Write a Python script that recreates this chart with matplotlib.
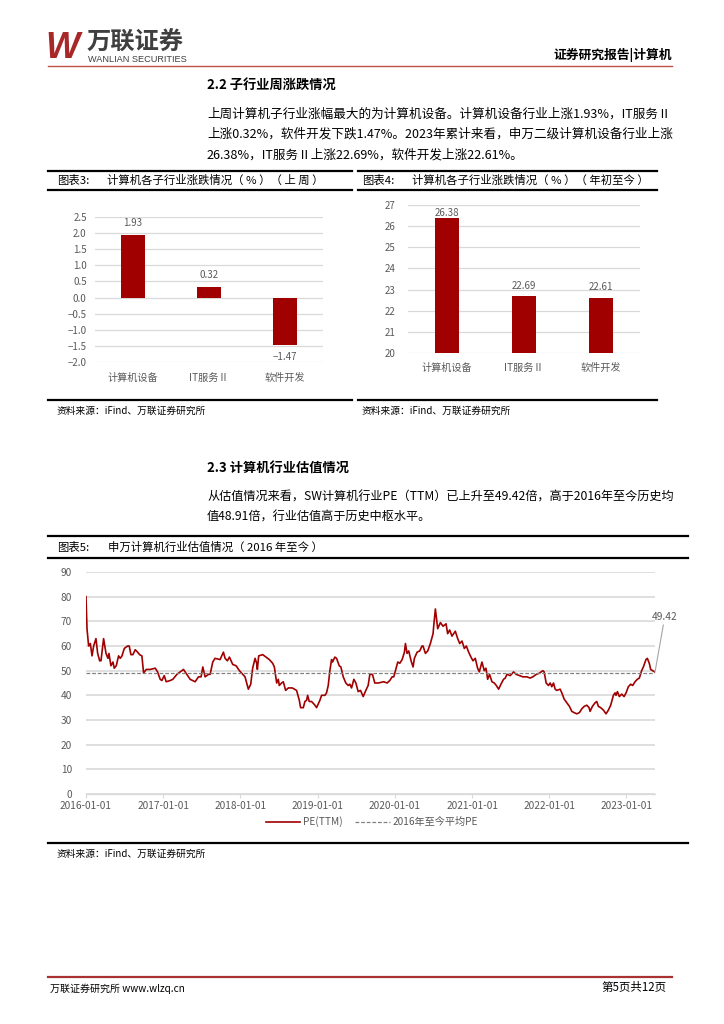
import matplotlib
matplotlib.use('Agg')
import matplotlib.pyplot as plt
import matplotlib.dates as mdates
from matplotlib.lines import Line2D
from matplotlib.ticker import FuncFormatter, MultipleLocator
import numpy as np
import pandas as pd

plt.rcParams['font.family'] = ['Noto Sans CJK SC', 'DejaVu Sans']

# ---------------- data ----------------
cats = ['计算机设备', 'IT服务Ⅱ', '软件开发']
week_chg = [1.93, 0.32, -1.47]
ytd_chg = [26.38, 22.69, 22.61]

# PE(TTM) of SW computer index, time in years since 2016-01-01
pe_t = [0.000, 0.013, 0.034, 0.056, 0.078, 0.099, 0.129, 0.151, 0.177, 0.194,
        0.228, 0.259, 0.284, 0.297, 0.323, 0.349, 0.366, 0.392, 0.422, 0.444,
        0.466, 0.496, 0.539, 0.560, 0.582, 0.608, 0.638, 0.668, 0.694, 0.724,
        0.746, 0.780, 0.832, 0.897, 0.927, 0.961, 0.983, 1.013, 1.039, 1.091,
        1.125, 1.177, 1.220, 1.263, 1.306, 1.349, 1.414, 1.457, 1.491, 1.513,
        1.543, 1.586, 1.608, 1.642, 1.672, 1.737, 1.780, 1.802, 1.832, 1.858,
        1.901, 1.944, 1.987, 2.017, 2.060, 2.103, 2.134, 2.159, 2.190, 2.211,
        2.220, 2.237, 2.289, 2.332, 2.375, 2.418, 2.440, 2.470, 2.491, 2.504,
        2.534, 2.556, 2.586, 2.621, 2.672, 2.728, 2.763, 2.780, 2.815, 2.836,
        2.858, 2.871, 2.892, 2.922, 2.966, 2.987, 3.030, 3.052, 3.095, 3.116,
        3.138, 3.159, 3.181, 3.194, 3.224, 3.246, 3.280, 3.302, 3.332, 3.366,
        3.397, 3.418, 3.440, 3.470, 3.496, 3.526, 3.556, 3.591, 3.625, 3.655,
        3.677, 3.711, 3.741, 3.784, 3.858, 3.901, 3.935, 3.966, 3.987, 4.009,
        4.039, 4.065, 4.095, 4.125, 4.138, 4.159, 4.181, 4.211, 4.237, 4.254,
        4.289, 4.323, 4.353, 4.366, 4.397, 4.427, 4.461, 4.496, 4.504, 4.526,
        4.556, 4.591, 4.625, 4.664, 4.685, 4.711, 4.741, 4.784, 4.815, 4.841,
        4.871, 4.901, 4.927, 4.957, 4.987, 5.013, 5.043, 5.073, 5.095, 5.129,
        5.159, 5.181, 5.203, 5.228, 5.259, 5.289, 5.315, 5.345, 5.375, 5.409,
        5.431, 5.453, 5.496, 5.539, 5.573, 5.616, 5.659, 5.711, 5.754, 5.789,
        5.832, 5.875, 5.918, 5.935, 5.961, 5.991, 6.013, 6.034, 6.056, 6.078,
        6.099, 6.142, 6.164, 6.194, 6.228, 6.263, 6.293, 6.323, 6.358, 6.392,
        6.422, 6.453, 6.487, 6.517, 6.530, 6.560, 6.595, 6.616, 6.638, 6.668,
        6.703, 6.737, 6.767, 6.797, 6.832, 6.853, 6.866, 6.884, 6.909, 6.940,
        6.970, 6.996, 7.026, 7.056, 7.082, 7.112, 7.142, 7.168, 7.198, 7.220,
        7.254, 7.272, 7.297, 7.315, 7.341, 7.371]
pe_v = [80.0, 67.0, 60.0, 61.0, 56.0, 60.0, 63.0, 57.0, 54.0, 54.0,
        63.0, 57.0, 55.0, 57.0, 52.0, 53.5, 51.0, 52.0, 56.0, 55.0,
        56.0, 59.0, 60.0, 60.0, 56.5, 56.5, 58.5, 57.5, 56.5, 56.0,
        49.0, 50.5, 50.5, 51.0, 49.5, 46.5, 46.0, 48.0, 45.5, 46.0,
        46.5, 48.5, 49.5, 50.5, 48.5, 46.5, 45.5, 47.5, 47.5, 51.5,
        47.5, 48.5, 48.5, 53.5, 55.0, 54.5, 57.5, 55.0, 54.0, 55.5,
        52.5, 52.0, 50.0, 49.0, 47.5, 42.5, 44.5, 51.0, 55.0, 53.0,
        50.5, 56.0, 56.5, 55.5, 54.5, 53.0, 51.5, 45.0, 46.5, 44.0,
        45.0, 45.5, 42.0, 43.0, 43.0, 42.0, 38.0, 35.0, 35.0, 37.5,
        38.0, 40.0, 37.5, 37.5, 36.0, 35.0, 38.0, 40.0, 40.0, 41.0,
        44.0, 50.0, 54.5, 53.5, 55.5, 55.0, 52.0, 51.5, 47.5, 45.0,
        44.0, 44.5, 43.0, 46.5, 45.0, 41.5, 42.0, 39.5, 42.0, 44.0,
        48.5, 48.5, 45.0, 45.0, 45.5, 45.0, 46.0, 47.5, 47.5, 50.0,
        53.5, 53.0, 54.5, 57.5, 61.0, 57.0, 58.0, 54.0, 51.5, 55.0,
        57.5, 58.0, 60.0, 60.0, 57.0, 58.0, 61.0, 65.0, 68.0, 75.0,
        67.0, 69.5, 68.0, 69.0, 65.0, 66.5, 64.0, 66.0, 63.0, 61.0,
        62.0, 59.0, 60.0, 57.5, 55.5, 54.0, 55.0, 51.0, 49.5, 53.5,
        50.0, 51.0, 46.5, 48.5, 45.5, 45.0, 44.0, 42.5, 44.5, 46.5,
        47.0, 48.5, 48.0, 49.5, 48.5, 48.0, 47.5, 47.5, 47.0, 47.5,
        48.5, 49.0, 50.0, 49.5, 45.0, 44.0, 45.0, 43.5, 45.0, 42.5,
        42.0, 42.5, 41.0, 38.5, 37.0, 35.5, 33.5, 33.0, 32.5, 33.0,
        34.5, 35.5, 36.0, 35.0, 33.5, 35.5, 37.0, 37.5, 35.5, 35.0,
        34.0, 32.5, 34.0, 36.0, 40.0, 41.0, 40.0, 41.5, 39.5, 40.5,
        39.5, 41.0, 43.5, 44.5, 44.0, 45.5, 46.5, 47.0, 50.0, 51.5,
        54.5, 55.0, 53.0, 50.5, 50.0, 49.42]
pe_mean = 48.91
year_ticks = ['2016-01-01', '2017-01-01', '2018-01-01', '2019-01-01',
              '2020-01-01', '2021-01-01', '2022-01-01', '2023-01-01']

RED = '#A00000'
GRID = '#d9d9d9'
TXT = '#595959'
W, H = 724, 1024

fig = plt.figure(figsize=(W / 100, H / 100), dpi=100)


def fx(x):
    return x / W


def fy(y):
    return 1 - y / H


def ftext(x, y, s, **kw):
    kw.setdefault('va', 'center')
    fig.text(fx(x), fy(y), s, **kw)


def hline(x0, x1, y, lw=1.0, color='black'):
    fig.add_artist(Line2D([fx(x0), fx(x1)], [fy(y), fy(y)], lw=lw,
                          color=color, transform=fig.transFigure))


def box_axes(x0, x1, y_top, y_bot):
    return fig.add_axes([fx(x0), fy(y_bot), (x1 - x0) / W, (y_bot - y_top) / H])


def minus(s):
    return s.replace('-', '\u2212')


# ---------------- page header / footer ----------------
ftext(45, 48, 'W', fontsize=26, color='#A82828', fontweight='bold',
      style='italic', family='Liberation Sans')
ftext(87, 43, '万联证券', fontsize=17.5, color='#3f3f3f', fontweight='bold')
ftext(88, 59, 'WANLIAN SECURITIES', fontsize=6.6, color='#3f3f3f',
      family='Liberation Sans')
ftext(672, 55, '证券研究报告|计算机', fontsize=9.2, ha='right', fontweight='bold')
hline(48, 672, 66, lw=1.0, color='#C0504D')

hline(48, 672, 977, lw=1.6, color='#A83232')
ftext(50, 989, '万联证券研究所 www.wlzq.cn', fontsize=7.2)
ftext(667, 987, '第5页共12页', fontsize=8.3, ha='right')

# ---------------- section 2.2 ----------------
ftext(207, 85, '2.2 子行业周涨跌情况', fontsize=9.5, fontweight='bold')
para1 = ['上周计算机子行业涨幅最大的为计算机设备。计算机设备行业上涨1.93%，IT服务Ⅱ',
         '上涨0.32%，软件开发下跌1.47%。2023年累计来看，申万二级计算机设备行业上涨',
         '26.38%，IT服务Ⅱ上涨22.69%，软件开发上涨22.61%。']
for i, line in enumerate(para1):
    ftext(207, 114 + i * 20.5, line, fontsize=9.05)

# chart titles band
hline(48, 352, 171, lw=1.6)
hline(358, 657, 171, lw=1.6)
hline(48, 352, 190, lw=1.6)
hline(358, 657, 190, lw=1.6)
ftext(57, 180, '图表3:', fontsize=8.2)
ftext(107, 180, '计算机各子行业涨跌情况（ % ）（ 上 周 ）', fontsize=8.2)
ftext(362, 180, '图表4:', fontsize=8.2)
ftext(412, 180, '计算机各子行业涨跌情况（ % ）（ 年初至今 ）', fontsize=8.2)
hline(48, 352, 400, lw=1.6)
hline(358, 657, 400, lw=1.6)
ftext(57, 411, '资料来源：iFind、万联证券研究所', fontsize=7, style='italic')
ftext(362, 411, '资料来源：iFind、万联证券研究所', fontsize=7, style='italic')


def style_bar_axes(ax, pad_y, pad_x):
    for s in ax.spines.values():
        s.set_visible(False)
    ax.yaxis.grid(True, color=GRID, lw=0.9)
    ax.set_axisbelow(True)
    ax.tick_params(axis='y', length=0, colors=TXT, labelsize=7, pad=pad_y)
    ax.tick_params(axis='x', length=0, colors=TXT, labelsize=7.3, pad=pad_x)
    ax.set_xlim(-0.5, 2.5)


# chart 3
ax3 = box_axes(95, 323, 217, 362)
xpos = np.arange(len(cats))
bars3 = ax3.bar(xpos, week_chg, width=0.32, color=RED)
ax3.set_ylim(-2.0, 2.5)
ax3.yaxis.set_major_locator(MultipleLocator(0.5))
ax3.yaxis.set_major_formatter(FuncFormatter(lambda v, p: minus(f'{v:.1f}')))
ax3.set_xticks(xpos)
ax3.set_xticklabels(cats)
style_bar_axes(ax3, 6, 8)
for b, v in zip(bars3, week_chg):
    off = 5 if v >= 0 else -5
    ax3.annotate(minus(f'{v:.2f}'), (b.get_x() + b.get_width() / 2, v),
                 xytext=(0, off), textcoords='offset points', ha='center',
                 va='bottom' if v >= 0 else 'top', fontsize=7, color=TXT)

# chart 4
ax4 = box_axes(408, 640, 205, 353)
bars4 = ax4.bar(xpos, ytd_chg, width=0.31, color=RED)
ax4.set_ylim(20, 27)
ax4.yaxis.set_major_locator(MultipleLocator(1))
ax4.set_xticks(xpos)
ax4.set_xticklabels(cats)
style_bar_axes(ax4, 9, 7)
for b, v in zip(bars4, ytd_chg):
    off = 0 if v > 26 else 4
    ax4.annotate(f'{v:.2f}', (b.get_x() + b.get_width() / 2, v),
                 xytext=(0, off), textcoords='offset points', ha='center',
                 va='bottom', fontsize=7, color=TXT)

# ---------------- section 2.3 ----------------
ftext(207, 468, '2.3 计算机行业估值情况', fontsize=9.5, fontweight='bold')
para2 = ['从估值情况来看，SW计算机行业PE（TTM）已上升至49.42倍，高于2016年至今历史均',
         '值48.91倍，行业估值高于历史中枢水平。']
for i, line in enumerate(para2):
    ftext(207, 497 + i * 20.5, line, fontsize=8.75)

hline(48, 688, 536, lw=1.6)
hline(48, 688, 558, lw=1.6)
ftext(57, 547, '图表5:', fontsize=8.2)
ftext(108, 547, '申万计算机行业估值情况（ 2016 年至今 ）', fontsize=8.2)
hline(48, 688, 843, lw=1.6)
ftext(57, 854, '资料来源：iFind、万联证券研究所', fontsize=7, style='italic')

# chart 5
dates = pd.Timestamp('2016-01-01') + pd.to_timedelta(np.array(pe_t) * 365.25, unit='D')
ax5 = box_axes(86, 655, 572, 794)
ln, = ax5.plot(dates, pe_v, color=RED, lw=1.2, label='PE(TTM)')
mn = ax5.axhline(pe_mean, color='#808080', lw=0.9, ls=(0, (3, 1.5)),
                 label='2016年至今平均PE')
ax5.set_ylim(0, 90)
ax5.set_xlim(dates[0], dates[-1])
ax5.yaxis.set_major_locator(MultipleLocator(10))
ax5.set_xticks(pd.to_datetime(year_ticks))
ax5.xaxis.set_major_formatter(mdates.DateFormatter('%Y-%m-%d'))
for s in ['top', 'right', 'left']:
    ax5.spines[s].set_visible(False)
ax5.spines['bottom'].set_color(GRID)
ax5.spines['bottom'].set_linewidth(0.9)
ax5.yaxis.grid(True, color=GRID, lw=1.2)
ax5.set_axisbelow(True)
ax5.tick_params(axis='y', length=0, colors=TXT, labelsize=7.3, pad=10)
ax5.tick_params(axis='x', length=3, color=GRID, colors=TXT, labelsize=7.3, pad=2)
ax5.annotate(f'{pe_v[-1]:.2f}', (dates[-1], pe_v[-1]), xytext=(7, 36),
             textcoords='offset points', ha='center', va='bottom',
             fontsize=7.3, color=TXT, annotation_clip=False,
             arrowprops=dict(arrowstyle='-', color='#a6a6a6', lw=0.8,
                             shrinkA=0, shrinkB=0))
fig.legend(handles=[ln, mn], loc='center', bbox_to_anchor=(fx(372), fy(822)),
           ncol=2, frameon=False, fontsize=7.3, labelcolor=TXT,
           handlelength=3.4, handletextpad=0.3, columnspacing=1.2)

fig.savefig('out.png', dpi=100)
